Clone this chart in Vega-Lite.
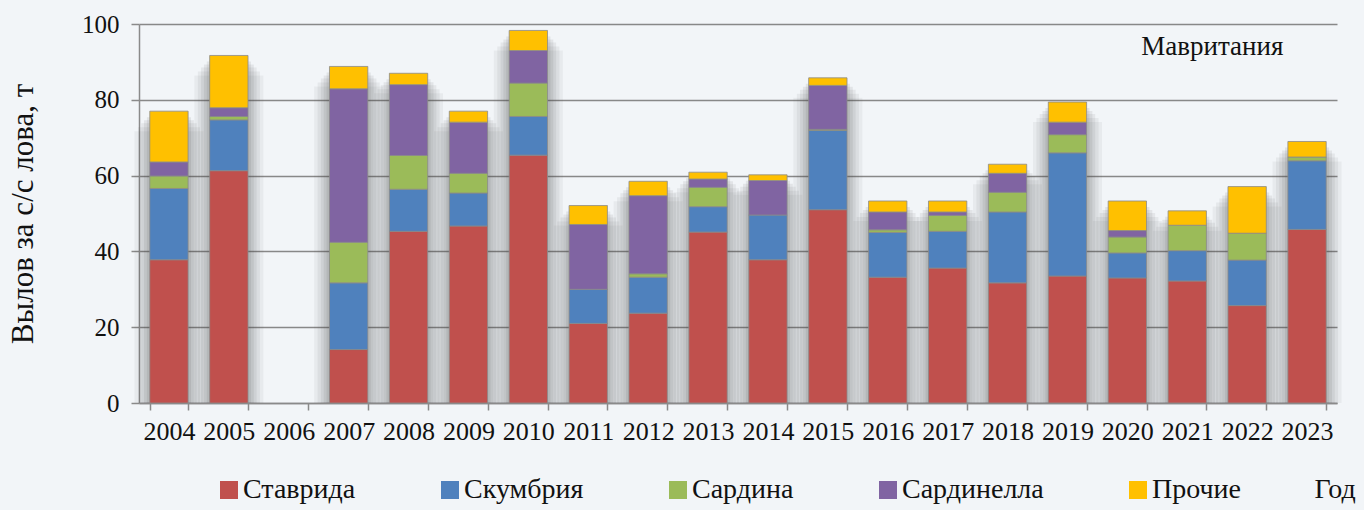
{
  "$schema": "https://vega.github.io/schema/vega-lite/v6.json",
  "width": 1198,
  "height": 379,
  "autosize": {"type": "none"},
  "padding": {"left": 139, "top": 24, "right": 27, "bottom": 107},
  "background": "#f2f5f8",
  "data": {
    "values": [
      {"year": "2004", "species": "Ставрида", "k": 1, "catch": 37.8},
      {"year": "2004", "species": "Скумбрия", "k": 2, "catch": 18.8},
      {"year": "2004", "species": "Сардина", "k": 3, "catch": 3.3},
      {"year": "2004", "species": "Сардинелла", "k": 4, "catch": 3.7},
      {"year": "2004", "species": "Прочие", "k": 5, "catch": 13.4},
      {"year": "2005", "species": "Ставрида", "k": 1, "catch": 61.3},
      {"year": "2005", "species": "Скумбрия", "k": 2, "catch": 13.4},
      {"year": "2005", "species": "Сардина", "k": 3, "catch": 0.9},
      {"year": "2005", "species": "Сардинелла", "k": 4, "catch": 2.3},
      {"year": "2005", "species": "Прочие", "k": 5, "catch": 13.8},
      {"year": "2007", "species": "Ставрида", "k": 1, "catch": 14.1},
      {"year": "2007", "species": "Скумбрия", "k": 2, "catch": 17.6},
      {"year": "2007", "species": "Сардина", "k": 3, "catch": 10.7},
      {"year": "2007", "species": "Сардинелла", "k": 4, "catch": 40.5},
      {"year": "2007", "species": "Прочие", "k": 5, "catch": 5.9},
      {"year": "2008", "species": "Ставрида", "k": 1, "catch": 45.3},
      {"year": "2008", "species": "Скумбрия", "k": 2, "catch": 11.1},
      {"year": "2008", "species": "Сардина", "k": 3, "catch": 8.9},
      {"year": "2008", "species": "Сардинелла", "k": 4, "catch": 18.7},
      {"year": "2008", "species": "Прочие", "k": 5, "catch": 3.0},
      {"year": "2009", "species": "Ставрида", "k": 1, "catch": 46.7},
      {"year": "2009", "species": "Скумбрия", "k": 2, "catch": 8.7},
      {"year": "2009", "species": "Сардина", "k": 3, "catch": 5.2},
      {"year": "2009", "species": "Сардинелла", "k": 4, "catch": 13.5},
      {"year": "2009", "species": "Прочие", "k": 5, "catch": 2.9},
      {"year": "2010", "species": "Ставрида", "k": 1, "catch": 65.4},
      {"year": "2010", "species": "Скумбрия", "k": 2, "catch": 10.2},
      {"year": "2010", "species": "Сардина", "k": 3, "catch": 8.8},
      {"year": "2010", "species": "Сардинелла", "k": 4, "catch": 8.6},
      {"year": "2010", "species": "Прочие", "k": 5, "catch": 5.3},
      {"year": "2011", "species": "Ставрида", "k": 1, "catch": 21.0},
      {"year": "2011", "species": "Скумбрия", "k": 2, "catch": 9.0},
      {"year": "2011", "species": "Сардинелла", "k": 4, "catch": 17.1},
      {"year": "2011", "species": "Прочие", "k": 5, "catch": 5.0},
      {"year": "2012", "species": "Ставрида", "k": 1, "catch": 23.7},
      {"year": "2012", "species": "Скумбрия", "k": 2, "catch": 9.5},
      {"year": "2012", "species": "Сардина", "k": 3, "catch": 0.9},
      {"year": "2012", "species": "Сардинелла", "k": 4, "catch": 20.6},
      {"year": "2012", "species": "Прочие", "k": 5, "catch": 3.8},
      {"year": "2013", "species": "Ставрида", "k": 1, "catch": 45.1},
      {"year": "2013", "species": "Скумбрия", "k": 2, "catch": 6.7},
      {"year": "2013", "species": "Сардина", "k": 3, "catch": 5.1},
      {"year": "2013", "species": "Сардинелла", "k": 4, "catch": 2.2},
      {"year": "2013", "species": "Прочие", "k": 5, "catch": 1.8},
      {"year": "2014", "species": "Ставрида", "k": 1, "catch": 37.8},
      {"year": "2014", "species": "Скумбрия", "k": 2, "catch": 11.8},
      {"year": "2014", "species": "Сардинелла", "k": 4, "catch": 9.1},
      {"year": "2014", "species": "Прочие", "k": 5, "catch": 1.5},
      {"year": "2015", "species": "Ставрида", "k": 1, "catch": 51.0},
      {"year": "2015", "species": "Скумбрия", "k": 2, "catch": 20.9},
      {"year": "2015", "species": "Сардина", "k": 3, "catch": 0.3},
      {"year": "2015", "species": "Сардинелла", "k": 4, "catch": 11.6},
      {"year": "2015", "species": "Прочие", "k": 5, "catch": 2.0},
      {"year": "2016", "species": "Ставрида", "k": 1, "catch": 33.2},
      {"year": "2016", "species": "Скумбрия", "k": 2, "catch": 11.8},
      {"year": "2016", "species": "Сардина", "k": 3, "catch": 0.7},
      {"year": "2016", "species": "Сардинелла", "k": 4, "catch": 4.7},
      {"year": "2016", "species": "Прочие", "k": 5, "catch": 2.9},
      {"year": "2017", "species": "Ставрида", "k": 1, "catch": 35.6},
      {"year": "2017", "species": "Скумбрия", "k": 2, "catch": 9.7},
      {"year": "2017", "species": "Сардина", "k": 3, "catch": 4.2},
      {"year": "2017", "species": "Сардинелла", "k": 4, "catch": 0.9},
      {"year": "2017", "species": "Прочие", "k": 5, "catch": 2.9},
      {"year": "2018", "species": "Ставрида", "k": 1, "catch": 31.7},
      {"year": "2018", "species": "Скумбрия", "k": 2, "catch": 18.7},
      {"year": "2018", "species": "Сардина", "k": 3, "catch": 5.2},
      {"year": "2018", "species": "Сардинелла", "k": 4, "catch": 5.0},
      {"year": "2018", "species": "Прочие", "k": 5, "catch": 2.4},
      {"year": "2019", "species": "Ставрида", "k": 1, "catch": 33.5},
      {"year": "2019", "species": "Скумбрия", "k": 2, "catch": 32.5},
      {"year": "2019", "species": "Сардина", "k": 3, "catch": 4.8},
      {"year": "2019", "species": "Сардинелла", "k": 4, "catch": 3.3},
      {"year": "2019", "species": "Прочие", "k": 5, "catch": 5.3},
      {"year": "2020", "species": "Ставрида", "k": 1, "catch": 33.0},
      {"year": "2020", "species": "Скумбрия", "k": 2, "catch": 6.6},
      {"year": "2020", "species": "Сардина", "k": 3, "catch": 4.2},
      {"year": "2020", "species": "Сардинелла", "k": 4, "catch": 1.7},
      {"year": "2020", "species": "Прочие", "k": 5, "catch": 7.8},
      {"year": "2021", "species": "Ставрида", "k": 1, "catch": 32.2},
      {"year": "2021", "species": "Скумбрия", "k": 2, "catch": 8.0},
      {"year": "2021", "species": "Сардина", "k": 3, "catch": 6.7},
      {"year": "2021", "species": "Прочие", "k": 5, "catch": 3.8},
      {"year": "2022", "species": "Ставрида", "k": 1, "catch": 25.7},
      {"year": "2022", "species": "Скумбрия", "k": 2, "catch": 12.0},
      {"year": "2022", "species": "Сардина", "k": 3, "catch": 7.1},
      {"year": "2022", "species": "Прочие", "k": 5, "catch": 12.3},
      {"year": "2023", "species": "Ставрида", "k": 1, "catch": 45.8},
      {"year": "2023", "species": "Скумбрия", "k": 2, "catch": 18.1},
      {"year": "2023", "species": "Сардина", "k": 3, "catch": 1.0},
      {"year": "2023", "species": "Прочие", "k": 5, "catch": 4.1}
    ]
  },
  "encoding": {
    "x": {
      "field": "year",
      "type": "ordinal",
      "scale": {
        "domain": ["2004","2005","2006","2007","2008","2009","2010","2011","2012","2013","2014","2015","2016","2017","2018","2019","2020","2021","2022","2023"],
        "paddingInner": 0.36,
        "paddingOuter": 0.18
      },
      "axis": {
        "title": "Год",
        "titleFont": "Liberation Serif",
        "titleFontSize": 28,
        "titleFontWeight": "normal",
        "titleColor": "#111111",
        "titleAnchor": "start",
        "titleAlign": "left",
        "titleBaseline": "middle",
        "titleX": 1175,
        "titleY": 86,
        "labelAngle": 0,
        "labelFont": "Liberation Serif",
        "labelFontSize": 26,
        "labelColor": "#111111",
        "labelPadding": 8,
        "tickBand": "extent",
        "tickOffset": -11,
        "tickSize": 7,
        "tickColor": "#8a8a8a",
        "tickWidth": 1.5,
        "domainColor": "#8a8a8a",
        "domainWidth": 1.5,
        "grid": false
      }
    },
    "y": {
      "field": "catch",
      "type": "quantitative",
      "aggregate": "sum",
      "scale": {"domain": [0, 100], "nice": false},
      "axis": {
        "title": "Вылов за с/с лова, т",
        "titleFont": "Liberation Serif",
        "titleFontSize": 31,
        "titleFontWeight": "normal",
        "titleColor": "#111111",
        "titlePadding": 42,
        "values": [0, 20, 40, 60, 80, 100],
        "labelFont": "Liberation Serif",
        "labelFontSize": 25,
        "labelColor": "#111111",
        "labelPadding": 12,
        "tickSize": 8,
        "tickColor": "#8a8a8a",
        "tickWidth": 1.5,
        "domainColor": "#8a8a8a",
        "domainWidth": 1.5,
        "grid": true,
        "gridColor": "#888888",
        "gridWidth": 1.5
      }
    }
  },
  "layer": [
    {"mark": {"type": "bar", "color": "#444444", "opacity": 0.06, "width": {"band": 1.8}, "yOffset": 20}},
    {"mark": {"type": "bar", "color": "#444444", "opacity": 0.07, "width": {"band": 1.62}, "yOffset": 16}},
    {"mark": {"type": "bar", "color": "#444444", "opacity": 0.08, "width": {"band": 1.45}, "yOffset": 12}},
    {"mark": {"type": "bar", "color": "#444444", "opacity": 0.09, "width": {"band": 1.3}, "yOffset": 9}},
    {"mark": {"type": "bar", "color": "#444444", "opacity": 0.1, "width": {"band": 1.15}, "yOffset": 6}},
    {
      "mark": {"type": "bar", "stroke": "#8a8a8a", "strokeWidth": 0.8},
      "encoding": {
        "color": {
          "field": "species",
          "type": "nominal",
          "sort": ["Ставрида", "Скумбрия", "Сардина", "Сардинелла", "Прочие"],
          "scale": {
            "domain": ["Ставрида", "Скумбрия", "Сардина", "Сардинелла", "Прочие"],
            "range": ["#c0504d", "#4f81bd", "#9bbb59", "#8064a2", "#ffc000"]
          },
          "legend": {
            "title": null,
            "orient": "none",
            "direction": "horizontal",
            "legendX": 76,
            "legendY": 452,
            "columns": 5,
            "gridAlign": "none",
            "columnPadding": 80,
            "symbolType": "square",
            "symbolSize": 324,
            "symbolStrokeWidth": 0,
            "labelFont": "Liberation Serif",
            "labelFontSize": 28,
            "labelColor": "#111111",
            "labelLimit": 400,
            "labelOffset": 0
          }
        },
        "order": {"field": "k", "type": "quantitative", "sort": "ascending"}
      }
    },
    {
      "transform": [{"filter": "datum.year == '2021' && datum.k == 1"}],
      "mark": {
        "type": "text",
        "text": "Мавритания",
        "font": "Liberation Serif",
        "fontSize": 27,
        "fontWeight": "normal",
        "color": "#111111",
        "align": "center",
        "baseline": "middle",
        "dx": 25
      },
      "encoding": {
        "y": {"datum": 94}
      }
    }
  ],
  "config": {"view": {"stroke": null}, "text": {"font": "Liberation Serif"}}
}
